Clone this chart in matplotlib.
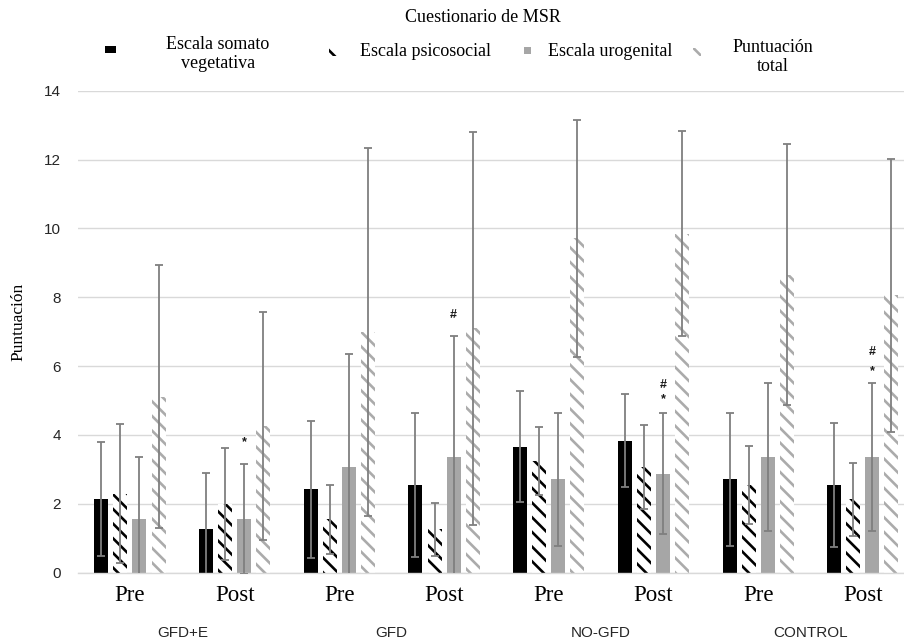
import matplotlib
matplotlib.use("Agg")
import matplotlib.pyplot as plt
from matplotlib.patches import Rectangle
import numpy as np

groups = ["GFD+E", "GFD", "NO-GFD", "CONTROL"]
moments = ["Pre", "Post"]

series_names = ["Escala somato\nvegetativa", "Escala psicosocial",
                "Escala urogenital", "Puntuación\ntotal"]

# mean and sd per group/moment: GFD+E pre, post, GFD pre, post, ...
somato = [2.14, 1.27, 2.42, 2.55, 3.66, 3.83, 2.71, 2.55]
somato_sd = [1.66, 1.64, 1.98, 2.10, 1.62, 1.35, 1.92, 1.80]
psico = [2.30, 1.99, 1.55, 1.26, 3.24, 3.08, 2.55, 2.13]
psico_sd = [2.03, 1.63, 1.00, 0.77, 0.98, 1.22, 1.13, 1.07]
uro = [1.56, 1.56, 3.08, 3.37, 2.71, 2.88, 3.37, 3.37]
uro_sd = [1.80, 1.60, 3.27, 3.51, 1.92, 1.76, 2.15, 2.15]
total = [5.11, 4.26, 7.00, 7.10, 9.71, 9.85, 8.66, 8.06]
total_sd = [3.82, 3.31, 5.35, 5.70, 3.45, 2.98, 3.79, 3.96]

# significance marks over the urogenital bars (bar index, symbol, height)
marks = [(1, "*", 3.78), (3, "#", 7.48), (5, "#", 5.45), (5, "*", 5.03),
         (7, "#", 6.42), (7, "*", 5.86)]

SERIF = "Liberation Serif"
SANS = "Liberation Sans"

# lower dpi gives a tighter hatch; sizes below are given as if at 100 dpi
DPI = 88


def pt(v):
    return v * 100 / DPI


plt.rcParams["hatch.linewidth"] = pt(1.9)

W, H = 904, 643
fig = plt.figure(figsize=(W / DPI, H / DPI), dpi=DPI)
ax = fig.add_axes([77.6 / W, (H - 572.7) / H, 837.6 / W, (572.7 - 90.7) / H])

x = np.arange(len(somato))
pitch = 0.182
width = 0.134
styles = [
    dict(facecolor="black", edgecolor="black", hatch=None),
    dict(facecolor="white", edgecolor="black", hatch="\\\\"),
    dict(facecolor="#a6a6a6", edgecolor="#a6a6a6", hatch=None),
    dict(facecolor="white", edgecolor="#ababab", hatch="\\\\"),
]
data = [(somato, somato_sd), (psico, psico_sd), (uro, uro_sd), (total, total_sd)]

for i, ((vals, sds), st) in enumerate(zip(data, styles)):
    pos = x + (i - 1.5) * pitch
    ax.bar(pos, vals, width, linewidth=0, zorder=2, **st)
    ax.errorbar(pos, vals, yerr=sds, fmt="none", ecolor="#7f7f7f",
                elinewidth=pt(1.3), capsize=pt(3), capthick=pt(1.3), zorder=3)

for idx, sym, yv in marks:
    ax.text(idx + 0.5 * pitch, yv, sym, ha="center", va="center",
            fontsize=pt(9), fontweight="bold", color="#1a1a1a", family=SANS, zorder=4)

ax.set_ylim(0, 14)
ax.set_xlim(-0.5, len(x) - 0.5)
ax.set_yticks(np.arange(0, 15, 2))
ax.yaxis.grid(True, color="#d9d9d9", linewidth=pt(1))
ax.set_axisbelow(True)
for s in ["left", "right", "top"]:
    ax.spines[s].set_visible(False)
ax.spines["bottom"].set_color("#d9d9d9")
ax.spines["bottom"].set_linewidth(pt(1))
ax.tick_params(axis="y", length=0, pad=pt(12), labelsize=pt(11), labelcolor="#262626")
for lab in ax.get_yticklabels():
    lab.set_family(SANS)

ax.set_xticks(x)
ax.set_xticklabels(moments * len(groups), family=SERIF, fontsize=pt(16.5))
ax.tick_params(axis="x", length=0, pad=pt(9))

for g, name in enumerate(groups):
    ax.text(2 * g + 0.5, -0.125, name, transform=ax.get_xaxis_transform(),
            ha="center", va="center", fontsize=pt(11), family=SANS, color="#262626")


# title, y label and legend placed in figure pixels
def fx(px):
    return px / W


def fy(py):
    return 1 - py / H


fig.text(fx(18), fy(322), "Puntuación", family=SERIF, fontsize=pt(12.5),
         rotation=90, ha="center", va="center")
fig.text(fx(483), fy(18), "Cuestionario de MSR", family=SERIF, fontsize=pt(13),
         ha="center", va="center")

handles = [(110, 49, 11, 7), (333, 52, 8, 8), (527, 50, 7, 7), (697, 52, 8, 8)]
for (cx, cy, w, h), st in zip(handles, styles):
    fig.add_artist(Rectangle((fx(cx - w / 2), fy(cy + h / 2)), w / W, h / H,
                             transform=fig.transFigure, linewidth=0, **st))

fig.text(fx(218), fy(54), series_names[0], family=SERIF, fontsize=pt(13),
         ha="center", va="center", multialignment="center", linespacing=1.15)
fig.text(fx(360), fy(52), series_names[1], family=SERIF, fontsize=pt(13),
         ha="left", va="center")
fig.text(fx(548), fy(52), series_names[2], family=SERIF, fontsize=pt(13),
         ha="left", va="center")
fig.text(fx(773), fy(57), series_names[3], family=SERIF, fontsize=pt(13),
         ha="center", va="center", multialignment="center", linespacing=1.15)

fig.savefig("out.png", dpi=DPI)
